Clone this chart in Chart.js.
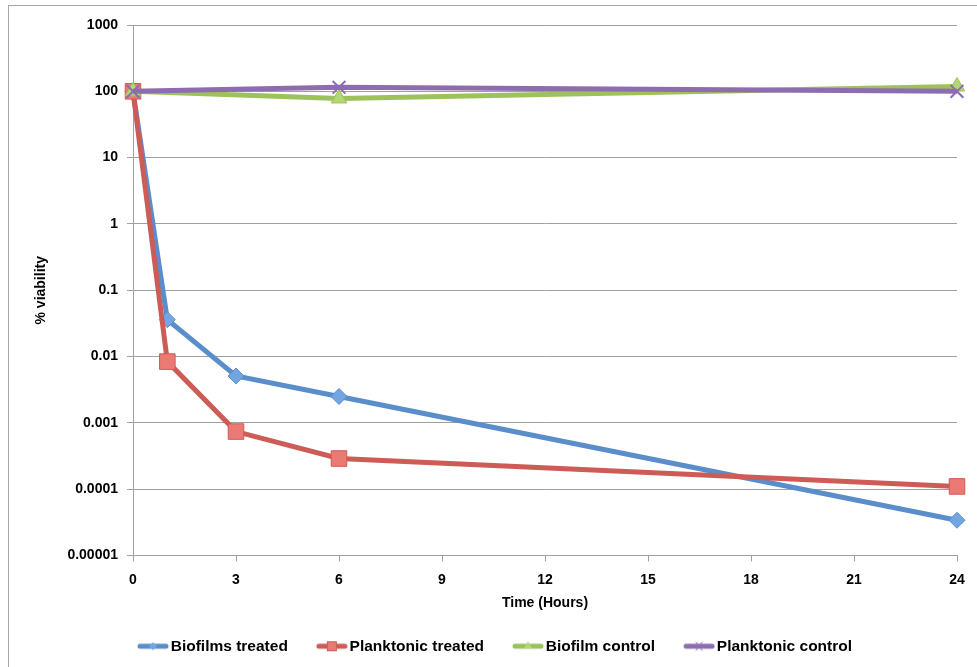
<!DOCTYPE html>
<html>
<head>
<style>
  body { margin: 0; background: #fff; }
  #wrap { position: relative; width: 977px; height: 667px; }
</style>
</head>
<body>
  <div id="wrap">
    <canvas id="myChart" width="977" height="667"></canvas>
  </div>
</body>

<script src="https://cdn.jsdelivr.net/npm/chart.js@4.4.0/dist/chart.umd.min.js"></script>

<script>
  // values (hours vs % viability, log scale)
  const treatedHours = [0, 1, 3, 6, 24]
  const controlHours = [0, 6, 24]
  const biofilmsTreated = [100, 0.036, 0.0051, 0.0025, 0.000034]
  const planktonicTreated = [100, 0.0084, 0.00074, 0.00029, 0.00011]
  const biofilmControl = [100, 78, 118]
  const planktonicControl = [100, 115, 100]
  const yTicks = [0.00001, 0.0001, 0.001, 0.01, 0.1, 1, 10, 100, 1000]
  const xTicks = [0, 3, 6, 9, 12, 15, 18, 21, 24]

  const seriesNames = ['Biofilms treated', 'Planktonic treated', 'Biofilm control', 'Planktonic control']
  const lineColors = ['#5A8ECB', '#CD5B56', '#9DC25C', '#8D6CB0']
  const fillColors = ['#73A5E0', '#EC7A74', '#B3D873', '#9B7EBD']
  const markers = ['rectRot', 'rect', 'triangle', 'crossRot']
  const markerSizes = [8, 11, 9, 9]

  const toPoints = (xs, ys) => xs.map((x, i) => ({ x: x, y: ys[i] }))

  const allData = [
    toPoints(treatedHours, biofilmsTreated),
    toPoints(treatedHours, planktonicTreated),
    toPoints(controlHours, biofilmControl),
    toPoints(controlHours, planktonicControl)
  ]

  // line + marker swatch for the legend (left part of the image is empty on purpose)
  const makeSwatch = (i) => {
    const c = document.createElement('canvas')
    c.width = 56
    c.height = 14
    const g = c.getContext('2d')
    g.strokeStyle = lineColors[i]
    g.lineWidth = 5
    g.lineCap = 'round'
    g.beginPath()
    g.moveTo(27, 7)
    g.lineTo(53, 7)
    g.stroke()
    const cx = 40
    g.fillStyle = fillColors[i]
    g.strokeStyle = lineColors[i]
    g.lineWidth = 1
    g.beginPath()
    if (i == 0) { g.moveTo(cx - 4, 7); g.lineTo(cx, 3); g.lineTo(cx + 4, 7); g.lineTo(cx, 11); g.closePath(); g.fill() }
    if (i == 1) { g.fillRect(cx - 5, 2, 10, 10); g.strokeRect(cx - 4.5, 2.5, 9, 9) }
    if (i == 2) { g.moveTo(cx - 4, 9); g.lineTo(cx, 2); g.lineTo(cx + 4, 9); g.closePath(); g.fill() }
    if (i == 3) { g.moveTo(cx - 3, 3); g.lineTo(cx + 3, 11); g.moveTo(cx + 3, 3); g.lineTo(cx - 3, 11); g.stroke() }
    return c
  }

  const framePlugin = {
    id: 'frame',
    beforeDraw(chart) {
      const ctx = chart.ctx
      ctx.save()
      ctx.strokeStyle = '#A8A8A8'
      ctx.lineWidth = 1
      ctx.strokeRect(8.5, 5.5, 1200, 1200)
      ctx.restore()
    },
    afterLayout(chart) {
      // nudge the legend a bit to the right, like the original
      chart.legend.left += 14
    }
  }

  const run = () => {
    const ctx = document.getElementById('myChart')
    Chart.defaults.font.family = '"Liberation Sans", Arial, sans-serif'
    Chart.defaults.color = '#000'

    new Chart(ctx, {
      type: 'line',
      data: {
        datasets: seriesNames.map((name, i) => ({
          label: name,
          data: allData[i],
          borderColor: lineColors[i],
          backgroundColor: fillColors[i],
          borderWidth: 5,
          pointStyle: markers[i],
          pointRadius: markerSizes[i],
          pointHoverRadius: markerSizes[i],
          pointBackgroundColor: fillColors[i],
          pointBorderColor: lineColors[i],
          pointBorderWidth: i == 3 ? 2 : 1,
          order: 3 - i,
          clip: false,
          tension: 0
        }))
      },
      options: {
        responsive: false,
        animation: false,
        layout: { padding: { left: 0, right: 20, top: 25, bottom: 3 } },
        plugins: {
          tooltip: { enabled: false },
          legend: {
            position: 'bottom',
            labels: {
              usePointStyle: true,
              pointStyleWidth: 44,
              padding: 10,
              font: { size: 15.5, weight: 'bold' },
              generateLabels: (chart) => chart.data.datasets.map((ds, i) => ({
                text: ds.label,
                pointStyle: makeSwatch(i),
                fillStyle: fillColors[i],
                strokeStyle: lineColors[i],
                lineWidth: 0,
                hidden: false,
                datasetIndex: i
              }))
            }
          }
        },
        scales: {
          x: {
            type: 'linear',
            min: 0,
            max: 24,
            afterBuildTicks: (scale) => { scale.ticks = xTicks.map(v => ({ value: v })) },
            afterFit: (scale) => { scale.height = 73 },
            border: { color: '#A0A0A0', width: 1 },
            grid: { drawOnChartArea: false, color: '#A0A0A0', tickLength: 6 },
            ticks: { font: { size: 14, weight: 'bold' }, padding: 10, maxRotation: 0 },
            title: {
              display: true,
              text: 'Time (Hours)',
              font: { size: 14, weight: 'bold' },
              padding: { top: 4, bottom: 17 }
            }
          },
          y: {
            type: 'logarithmic',
            min: 0.00001,
            max: 1000,
            afterBuildTicks: (scale) => { scale.ticks = yTicks.map(v => ({ value: v })) },
            afterFit: (scale) => { scale.width = 133 },
            border: { color: '#A0A0A0', width: 1 },
            grid: { color: '#A0A0A0', tickLength: 6 },
            ticks: {
              font: { size: 14, weight: 'bold' },
              padding: 9,
              callback: (v) => String(v)
            },
            title: {
              display: true,
              text: '% viability',
              font: { size: 14, weight: 'bold' },
              padding: { top: 33, bottom: 0 }
            }
          }
        }
      },
      plugins: [framePlugin]
    })
  }
  run()
</script>
</html>
